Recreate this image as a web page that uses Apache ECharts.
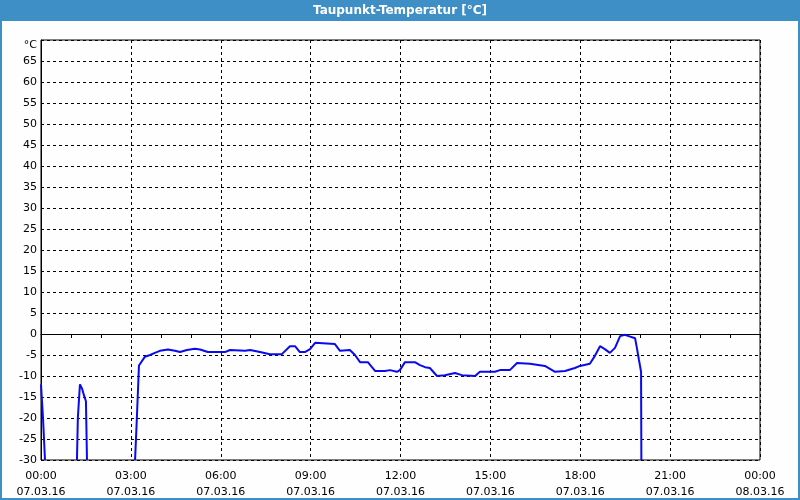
<!DOCTYPE html>
<html><head><meta charset="utf-8">
<script src="https://cdn.jsdelivr.net/npm/echarts@6/dist/echarts.min.js"></script>
<style>html,body{margin:0;padding:0;background:#fff}#c{width:800px;height:500px}</style>
</head><body><div id="c"></div>
<script>
// hours since 07.03.16 00:00 (null = gap)
const hours = [0,0.033,0.067,0.1,0.133,null,
 1.2,1.23,1.3,1.37,1.43,1.5,1.535,null,
 3.14,3.2,3.27,3.47,3.64,3.8,3.97,4.24,4.47,4.64,4.87,5.14,5.31,5.57,6.14,6.31,6.81,6.98,7.31,7.64,8.04,8.31,8.48,8.64,8.81,8.98,9.15,9.81,9.98,10.31,10.48,10.65,10.91,11.15,11.48,11.65,11.88,11.98,12.15,12.48,12.65,12.82,12.98,13.22,13.48,13.82,14.05,14.49,14.65,15.15,15.32,15.65,15.89,16.32,16.82,17.16,17.49,17.82,17.99,18.32,18.49,18.66,18.82,18.99,19.16,19.33,19.49,19.83,19.89,19.96,20.03,20.04];
const dewpoint = [-12,-16,-20,-25,-30,null,
 -30,-20,-12,-13,-14.5,-16,-30,null,
 -30,-20,-7.5,-5.4,-5,-4.5,-4,-3.7,-4,-4.3,-3.8,-3.5,-3.7,-4.3,-4.3,-3.8,-4,-3.8,-4.3,-4.8,-4.8,-2.9,-2.9,-4.3,-4.3,-3.6,-2.1,-2.4,-4,-3.8,-5,-6.7,-6.7,-8.8,-8.8,-8.6,-9,-8.6,-6.7,-6.7,-7.4,-7.9,-8.1,-10,-9.8,-9.3,-9.8,-10,-9,-9,-8.6,-8.6,-6.9,-7.1,-7.6,-9,-8.8,-8.1,-7.6,-7.1,-5.2,-2.9,-3.6,-4.5,-3.3,-0.5,-0.2,-1,-3.3,-6.2,-9,-30];
const timeLabels = ['00:00','03:00','06:00','09:00','12:00','15:00','18:00','21:00','00:00'];
const dateLabels = ['07.03.16','07.03.16','07.03.16','07.03.16','07.03.16','07.03.16','07.03.16','07.03.16','08.03.16'];
const titleText = 'Taupunkt-Temperatur [°C]';

const data = hours.map((h,i)=> h===null ? [null,null] : [h, dewpoint[i]]);
const chart = echarts.init(document.getElementById('c'), null, {renderer:'canvas'});
const font = 'DejaVu Sans';
chart.setOption({
  animation:false,
  backgroundColor:'#fdfefd',
  textStyle:{fontFamily:font},
  graphic:[
    {type:'rect', shape:{x:0,y:0,width:800,height:21}, style:{fill:'#3d8fc6'}, z:10},
    {type:'rect', shape:{x:0,y:0,width:2,height:500}, style:{fill:'#3d8fc6'}, z:10},
    {type:'rect', shape:{x:798,y:0,width:2,height:500}, style:{fill:'#3d8fc6'}, z:10},
    {type:'rect', shape:{x:0,y:498,width:800,height:2}, style:{fill:'#3d8fc6'}, z:10},
    {type:'text', x:400, y:11, style:{text:titleText, fill:'#fff', font:'bold 12px '+font, textAlign:'center', textVerticalAlign:'middle'}, z:11}
  ],
  grid:{left:41, right:40, top:40, bottom:39, show:true, borderColor:'#000', borderWidth:1},
  xAxis:{type:'value', min:0, max:24, interval:3,
    axisLine:{show:true, lineStyle:{color:'#000'}},
    axisTick:{show:true, length:4, lineStyle:{color:'#000'}},
    minorTick:{show:true, splitNumber:3, length:4, lineStyle:{color:'#000'}},
    splitLine:{show:true, lineStyle:{color:'#000', type:[3,3], width:1}},
    axisLabel:{color:'#000', fontSize:11, fontFamily:font, lineHeight:16, margin:8,
      formatter:v=>{const i=Math.round(v/3); return timeLabels[i]+'\n'+dateLabels[i];}}
  },
  yAxis:{type:'value', min:-30, max:70, interval:5,
    axisLine:{show:true, lineStyle:{color:'#000'}},
    axisTick:{show:false},
    splitLine:{show:true, lineStyle:{color:'#000', type:[3,3], width:1}},
    axisLabel:{color:'#000', fontSize:11, fontFamily:font, margin:4,
      formatter:v=> v===70 ? '{u|°C}' : String(v),
      rich:{u:{fontSize:11, fontFamily:font, color:'#000', padding:[10,0,0,0]}}}
  },
  series:[{type:'line', data:data, showSymbol:false, connectNulls:false,
    lineStyle:{color:'#0a0aee', width:2}, itemStyle:{color:'#0a0aee'}}]
});
</script></body></html>
